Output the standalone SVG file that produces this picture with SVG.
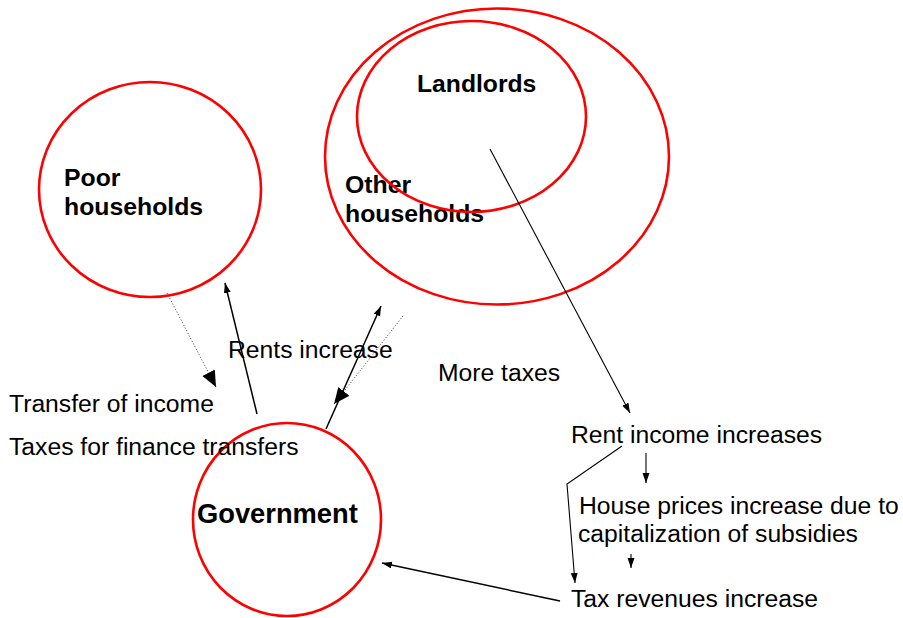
<svg xmlns="http://www.w3.org/2000/svg" width="903" height="618" viewBox="0 0 903 618">
  <style>
    .node { fill: none; stroke: #ff0000; stroke-width: 2.6; }
    .title { font-family: "Liberation Sans", Arial, sans-serif; font-weight: bold; fill: #000; }
    .label { font-family: "Liberation Sans", Arial, sans-serif; font-size: 24.7px; fill: #000; }
    .flow { fill: none; stroke: #000; stroke-width: 1.5; }
    .thin { fill: none; stroke: #000; stroke-width: 1.1; }
    .dotted { fill: none; stroke: #333; stroke-width: 1; stroke-dasharray: 1 2; }
  </style>
  <defs>
    <marker id="arrow" markerUnits="userSpaceOnUse" markerWidth="11" markerHeight="8" refX="10" refY="3.5" orient="auto">
      <path d="M0,0 L10,3.5 L0,7 z" fill="#000"/>
    </marker>
    <marker id="arrow-big" markerUnits="userSpaceOnUse" markerWidth="17" markerHeight="15" refX="16" refY="7" orient="auto">
      <path d="M0,0 L16,7 L0,14 z" fill="#000"/>
    </marker>
  </defs>
  <rect width="903" height="618" fill="#fff"/>

  <g id="poor-households">
    <ellipse class="node" cx="150" cy="189.5" rx="111" ry="107.5"/>
    <text class="title" font-size="24.8" x="64" y="186">Poor</text>
    <text class="title" font-size="24.8" x="64" y="215">households</text>
  </g>

  <g id="other-households">
    <ellipse class="node" cx="497" cy="156.5" rx="172" ry="148"/>
    <text class="title" font-size="24.8" x="345" y="193">Other</text>
    <text class="title" font-size="24.8" x="345" y="222">households</text>
  </g>

  <g id="landlords">
    <ellipse class="node" cx="471.5" cy="116.5" rx="114.5" ry="95.5"/>
    <text class="title" font-size="24.7" x="417" y="92">Landlords</text>
  </g>

  <g id="government">
    <ellipse class="node" cx="287" cy="519.5" rx="94" ry="96.5"/>
    <text class="title" font-size="27.3" x="197" y="523">Government</text>
  </g>

  <g id="labels">
    <text class="label" x="228" y="358">Rents increase</text>
    <text class="label" x="438" y="381">More taxes</text>
    <text class="label" x="9" y="412">Transfer of income</text>
    <text class="label" x="9" y="455">Taxes for finance transfers</text>
    <text class="label" x="571" y="443">Rent income increases</text>
    <text class="label" x="579" y="514">House prices increase due to</text>
    <text class="label" x="578" y="542">capitalization of subsidies</text>
    <text class="label" x="571" y="607">Tax revenues increase</text>
  </g>

  <g id="connectors">
    <!-- transfers to poor households and taxes to other households -->
    <line class="dotted" x1="167" y1="293" x2="216" y2="387" marker-end="url(#arrow-big)"/>
    <line class="dotted" x1="403" y1="316" x2="334" y2="404" marker-end="url(#arrow-big)"/>
    <!-- rents increase -->
    <line class="flow" x1="257" y1="414" x2="225" y2="283" marker-end="url(#arrow)"/>
    <line class="flow" x1="326" y1="429" x2="381" y2="306" marker-end="url(#arrow)"/>
    <!-- landlords to rent income -->
    <line class="thin" x1="490" y1="149" x2="630" y2="413" marker-end="url(#arrow)"/>
    <!-- rent income to house prices -->
    <line class="thin" x1="646" y1="453" x2="646" y2="483" marker-end="url(#arrow)"/>
    <!-- house prices to tax revenues -->
    <line class="thin" x1="631" y1="554" x2="631" y2="568" marker-end="url(#arrow)"/>
    <!-- rent income to tax revenues -->
    <polyline class="thin" points="622,446 567,484 575,583" marker-end="url(#arrow)"/>
    <!-- tax revenues back to government -->
    <line class="flow" x1="560" y1="601" x2="382" y2="563" marker-end="url(#arrow)"/>
  </g>
</svg>
